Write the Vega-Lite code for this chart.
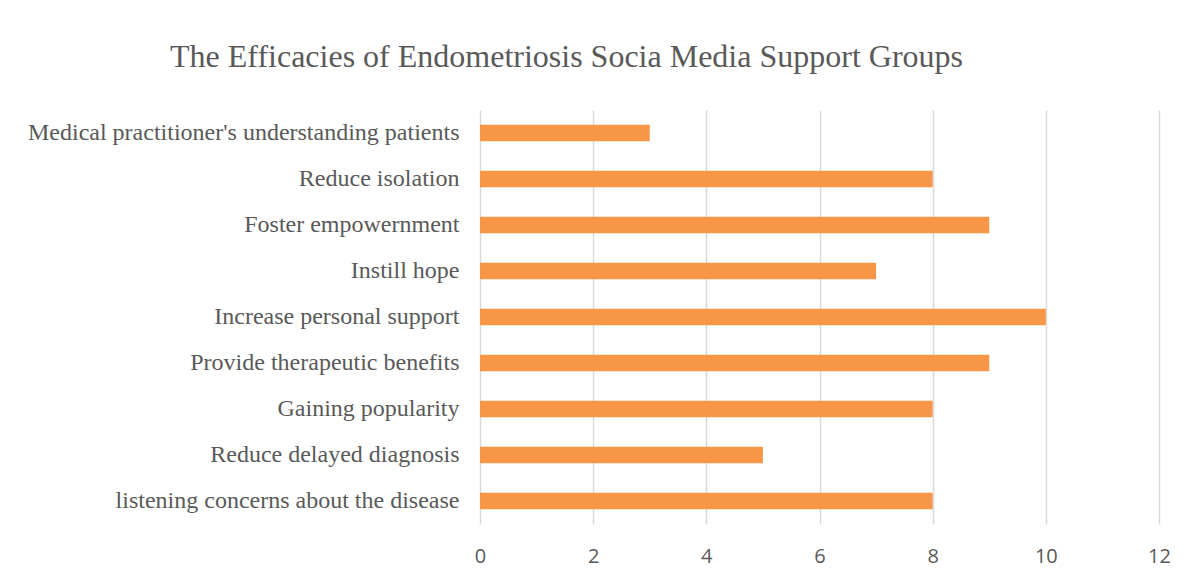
{
  "$schema": "https://vega.github.io/schema/vega-lite/v6.json",
  "width": 679,
  "height": 414,
  "autosize": "none",
  "padding": {"left": 480, "top": 110, "right": 33, "bottom": 57},
  "background": "white",
  "config": {"view": {"stroke": null}},
  "title": {
    "text": "The Efficacies of Endometriosis Socia Media Support Groups",
    "font": "Liberation Serif",
    "fontSize": 32,
    "fontWeight": "normal",
    "color": "#595959",
    "anchor": "middle",
    "dx": -253,
    "baseline": "alphabetic",
    "offset": 11
  },
  "data": {
    "values": [
      {"item": "Medical practitioner's understanding patients", "value": 3},
      {"item": "Reduce isolation", "value": 8},
      {"item": "Foster empowernment", "value": 9},
      {"item": "Instill hope", "value": 7},
      {"item": "Increase personal support", "value": 10},
      {"item": "Provide therapeutic benefits", "value": 9},
      {"item": "Gaining popularity", "value": 8},
      {"item": "Reduce delayed diagnosis", "value": 5},
      {"item": "listening concerns about the disease", "value": 8}
    ]
  },
  "mark": {"type": "bar", "color": "#F79646"},
  "encoding": {
    "y": {
      "field": "item",
      "type": "nominal",
      "sort": null,
      "scale": {"paddingInner": 0.64, "paddingOuter": 0.32},
      "axis": {
        "title": null,
        "domain": false,
        "ticks": false,
        "labelFont": "Liberation Serif",
        "labelFontSize": 24,
        "labelColor": "#595959",
        "labelPadding": 21,
        "labelLimit": 0
      }
    },
    "x": {
      "field": "value",
      "type": "quantitative",
      "scale": {"domain": [0, 12], "nice": false},
      "axis": {
        "title": null,
        "values": [0, 2, 4, 6, 8, 10, 12],
        "domain": false,
        "ticks": false,
        "grid": true,
        "gridColor": "#d9d9d9",
        "gridWidth": 1.5,
        "labelFlush": false,
        "labelFont": "Open Sans",
        "labelFontSize": 20,
        "labelColor": "#595959",
        "labelPadding": 22
      }
    }
  }
}
